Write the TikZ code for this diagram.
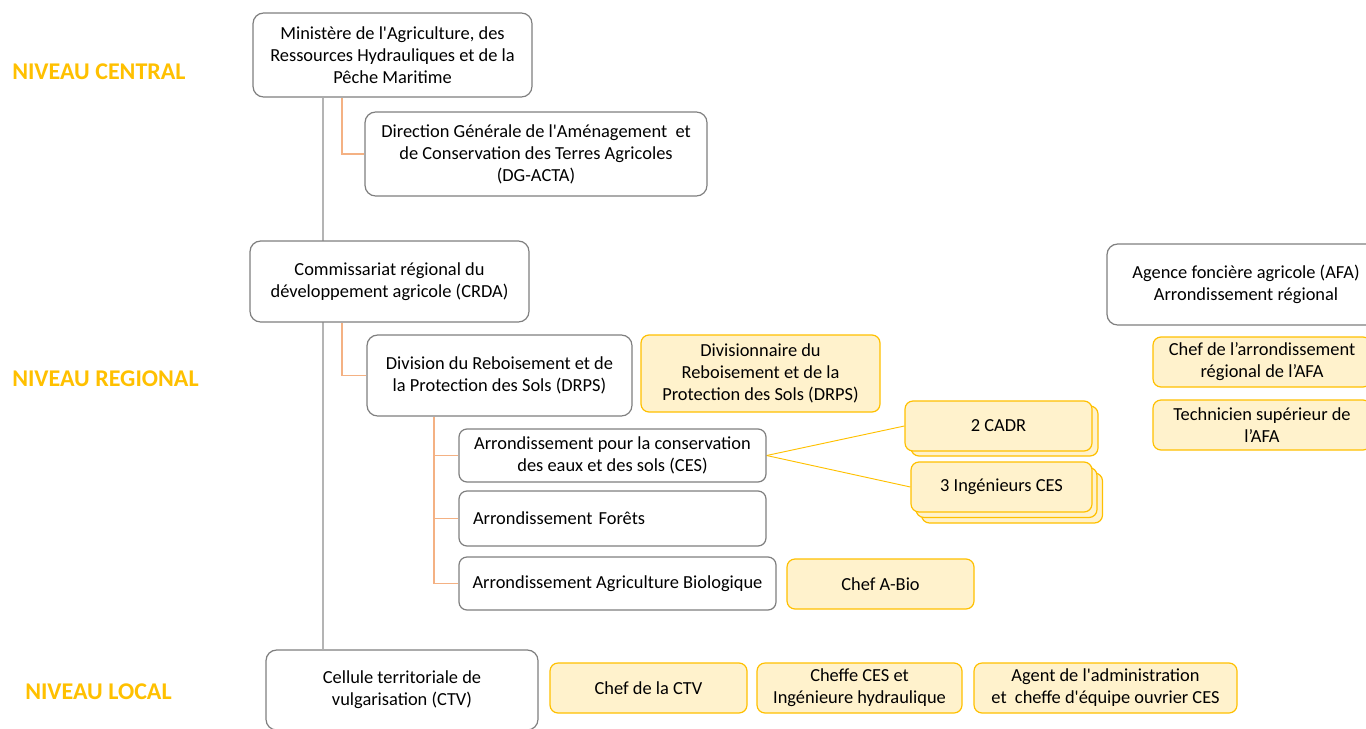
\documentclass[tikz,border=0pt]{standalone}
\usepackage{fontspec}
\setmainfont{Carlito}[Ligatures=TeXOff]
\usetikzlibrary{backgrounds}
\definecolor{gold}{HTML}{FFC000}
\definecolor{paleyel}{HTML}{FFF2CC}
\definecolor{boxgray}{HTML}{7F7F7F}
\definecolor{orangeline}{HTML}{F4B183}
\definecolor{vline}{HTML}{B4B4B4}
\begin{document}
\begin{tikzpicture}[x=0.75pt,y=-0.75pt,
 box/.style={draw=boxgray, fill=white, rounded corners=8pt, line width=0.9pt, align=center,
   font=\fontsize{13.8}{16.5}\selectfont, inner sep=0pt},
 ybox/.style={box, draw=gold, fill=paleyel, rounded corners=6pt},
 sz/.style 2 args={minimum width=#1*0.75pt, minimum height=#2*0.75pt},
 level/.style={font=\fontsize{18}{20}\selectfont\bfseries, text=gold, anchor=west, inner sep=0pt},
 org/.style={draw=orangeline, line width=0.9pt},
 vl/.style={draw=vline, line width=0.8pt},
 conn/.style={draw=gold, line width=0.7pt}]
\useasboundingbox (0,0) rectangle (1366,728);

% level labels
\node[level] (lc) at (12,72) {NIVEAU CENTRAL};
\node[level] (lr) at (12,379) {NIVEAU REGIONAL};
\node[level] (ll) at (25,692) {NIVEAU LOCAL};

% helper coordinates
\coordinate (vx) at (323,0);
\coordinate (ox1) at (342,0);
\coordinate (ox2) at (434,0);

% central
\node[box, sz={279}{84}] (min) at (392.5,55) {Ministère de l'Agriculture, des\\Ressources Hydrauliques et de la\\Pêche Maritime};
\node[box, sz={342}{84}] (dg) at (536,154) {Direction Générale de l'Aménagement\ \ et\\de Conservation des Terres Agricoles\\(DG-ACTA)};

% regional
\node[box, sz={279}{81}] (crda) at (389.5,281.5) {Commissariat régional du\\développement agricole (CRDA)};
\node[box, sz={265}{81}] (drps) at (499.5,375.5) {Division du Reboisement et de\\la Protection des Sols (DRPS)};
\node[ybox, sz={239}{77}] (div) at (760.5,373.5) {Divisionnaire du\\Reboisement et de la\\Protection des Sols (DRPS)};
\node[box, sz={307}{53}, rounded corners=6pt] (ces) at (612.5,455.5) {Arrondissement pour la conservation\\des eaux et des sols (CES)};
\node[box, sz={307}{55}, rounded corners=6pt, text width=279*0.75pt, align=left] (for) at (612.5,518.5) {Arrondissement Forêts};
\node[box, sz={317}{53}, rounded corners=6pt] (abio) at (617.5,583.5) {Arrondissement Agriculture Biologique};
\node[ybox, sz={187}{50}] (chefabio) at (880.5,584) {Chef A-Bio};

% CADR stack
\node[ybox, sz={187}{50}] (cadrb) at (1004.5,431) {};
\node[ybox, sz={187}{50}] (cadr) at (998.5,426) {2 CADR};
% Ingenieurs stack
\node[ybox, sz={181}{50}] (ingb2) at (1012,498) {};
\node[ybox, sz={181}{50}] (ingb1) at (1006.5,492.5) {};
\node[ybox, sz={181}{50}] (ing) at (1001.5,487) {3 Ingénieurs CES};

% AFA
\node[box, sz={278}{81}] (afa) at (1246,284.5) {Agence foncière agricole (AFA)\\Arrondissement régional};
\node[ybox, sz={218}{50}] (chefafa) at (1262,362) {Chef de l’arrondissement\\régional de l’AFA};
\node[ybox, sz={218}{50}] (tech) at (1262,425) {Technicien supérieur de\\l’AFA};

% local
\node[box, sz={272}{80}] (ctv) at (402,690) {Cellule territoriale de\\vulgarisation (CTV)};
\node[ybox, sz={197}{50}] (chefctv) at (648.5,688) {Chef de la CTV};
\node[ybox, sz={205}{50}] (cheffe) at (859.5,688) {Cheffe CES et\\Ingénieure hydraulique};
\node[ybox, sz={263}{50}] (agent) at (1105.5,688) {Agent de l'administration\\et\ \ cheffe d'équipe ouvrier CES};

\begin{pgfonlayer}{background}
\draw[vl] (min.south -| vx) -- (ctv.north -| vx);
\draw[org] (min.south -| ox1) |- (dg.west);
\draw[org] (crda.south -| ox1) |- (drps.west);
\draw[org] (drps.south -| ox2) |- (ces.west);
\draw[org] (drps.south -| ox2) |- (for.west);
\draw[org] (drps.south -| ox2) |- (abio.west);
\draw[conn] (ces.east) -- (cadr.west);
\draw[conn] (ces.east) -- (ing.west);
\end{pgfonlayer}
\end{tikzpicture}
\end{document}
